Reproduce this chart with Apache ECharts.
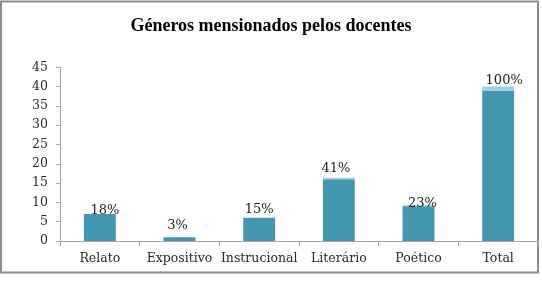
<!DOCTYPE html>
<html>
<head>
<meta charset="utf-8">
<script src="https://cdn.jsdelivr.net/npm/echarts@6/dist/echarts.min.js"></script>
<style>
  html, body { margin: 0; padding: 0; background: #fff; }
  #chart { width: 542px; height: 282px; }
</style>
</head>
<body>
<div id="chart"></div>
<script>
// dados
var categorias = ['Relato', 'Expositivo', 'Instrucional', 'Literário', 'Poético', 'Total'];
var valores = [7, 1, 6, 16, 9, 39];
var topo = [0, 0, 0, 0.4, 0.3, 1];
var percentuais = ['18%', '3%', '15%', '41%', '23%', '100%'];
var yTicks = [0, 5, 10, 15, 20, 25, 30, 35, 40, 45];

// ajuste fino da posição dos rótulos (px)
var labelNudge = [[5, 5], [-2, -3], [0, 0], [-3, -1], [4, 7], [6, 3]];

var chart = echarts.init(document.getElementById('chart'));

function getOption() {
    return {
        animation: false,
        title: {
            text: 'Géneros mensionados pelos docentes',
            left: 'center',
            top: 12,
            textStyle: {
                fontFamily: 'Liberation Serif',
                fontWeight: 'bold',
                fontSize: 18,
                color: '#000'
            }
        },
        graphic: [{
            type: 'rect',
            shape: { x: 1, y: 1.5, width: 537, height: 271 },
            style: { fill: 'none', stroke: '#8c8c8c', lineWidth: 2 },
            silent: true
        }],
        grid: {
            left: 60,
            right: 4,
            top: 67.3,
            bottom: 41
        },
        xAxis: {
            type: 'category',
            data: categorias,
            axisLine: { lineStyle: { color: '#a6a6a6', width: 1 } },
            axisTick: { show: true, length: 5, lineStyle: { color: '#a6a6a6' } },
            axisLabel: {
                interval: 0,
                margin: 11,
                fontFamily: 'DejaVu Serif',
                fontSize: 12.5,
                color: '#2b2b2b'
            }
        },
        yAxis: {
            type: 'value',
            min: yTicks[0],
            max: yTicks[yTicks.length - 1],
            interval: 5,
            axisLine: { show: true, lineStyle: { color: '#a6a6a6', width: 1 } },
            axisTick: { show: true, length: 4, lineStyle: { color: '#a6a6a6' } },
            splitLine: { show: false },
            axisLabel: {
                margin: 12,
                fontFamily: 'DejaVu Serif',
                fontSize: 12.5,
                color: '#2b2b2b'
            }
        },
        series: [
            {
                type: 'bar',
                stack: 'g',
                data: valores,
                barWidth: '40%',
                itemStyle: { color: '#4397b0' }
            },
            {
                type: 'bar',
                stack: 'g',
                data: topo.map(function (v, i) {
                    return {
                        value: v,
                        label: { offset: labelNudge[i] }
                    };
                }),
                barWidth: '40%',
                itemStyle: { color: '#a2d2e1' },
                label: {
                    show: true,
                    position: 'top',
                    distance: 2,
                    fontFamily: 'DejaVu Serif',
                    fontSize: 13,
                    color: '#222',
                    formatter: function (p) {
                        return percentuais[p.dataIndex];
                    }
                }
            }
        ]
    };
}

chart.setOption(getOption());
</script>
</body>
</html>
